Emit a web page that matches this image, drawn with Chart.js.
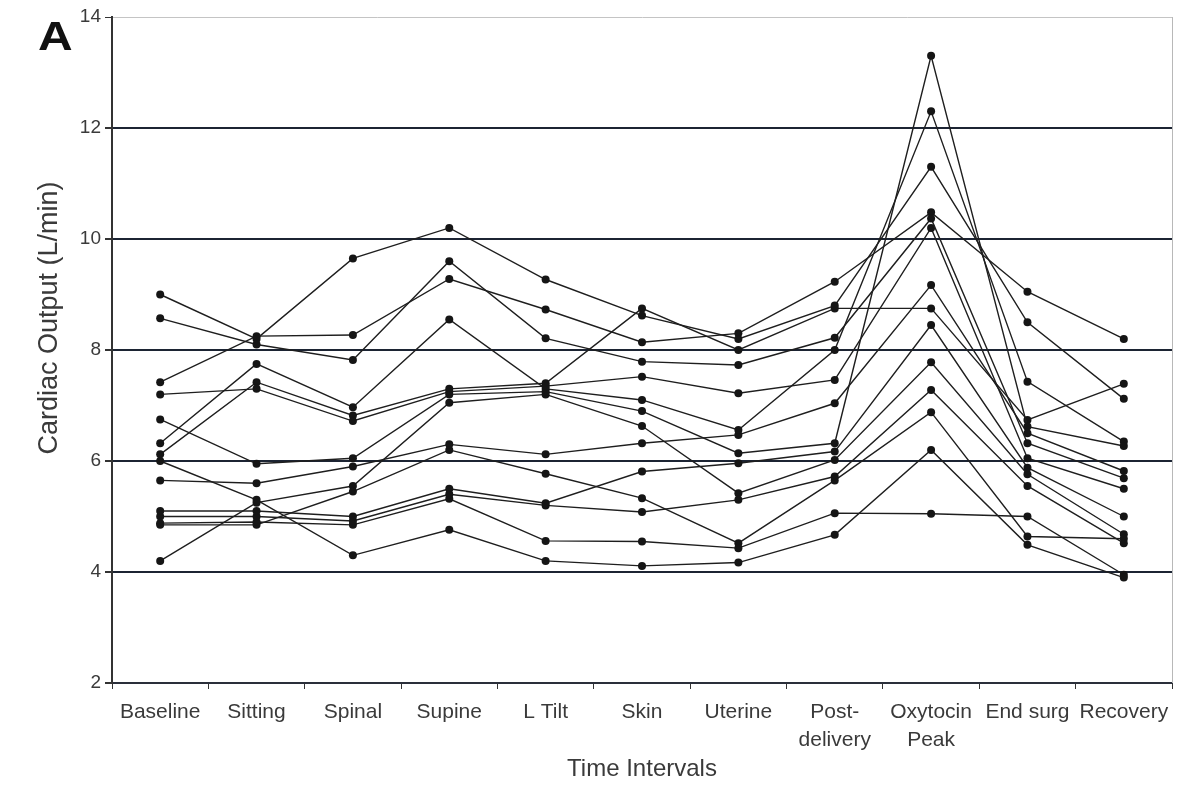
<!DOCTYPE html>
<html lang="en">
<head>
    <meta charset="UTF-8">
    <title>Cardiac Output by Time Interval</title>
    <script src="https://cdn.jsdelivr.net/npm/chart.js"></script>
    <style>
        html, body { margin: 0; padding: 0; background: #fff; }
        .wrap { width: 1185px; height: 793px; position: relative; }
    </style>
</head>
<body>
    <div class="wrap">
        <canvas id="coChart" width="1185" height="793"></canvas>
    </div>

    <script>
        // Time intervals (x categories)
        const intervals = ['Baseline', 'Sitting', 'Spinal', 'Supine', 'L Tilt', 'Skin', 'Uterine',
            ['Post-', 'delivery'], ['Oxytocin', 'Peak'], 'End surg', 'Recovery'];

        // Cardiac output per patient (L/min), one value per interval
        const p1  = [9.0,  8.2,  9.65, 10.2, 9.27, 8.62, 8.2,  8.8,  11.3,  8.5,  7.12];
        const p2  = [8.57, 8.1,  7.82, 9.6,  8.21, 7.79, 7.73, 8.22, 10.37, 6.32, 5.69];
        const p3  = [7.42, 8.25, 8.27, 9.28, 8.73, 8.14, 8.3,  9.23, 10.48, 9.05, 8.2];
        const p4  = [7.2,  7.3,  6.72, 7.25, 7.35, 7.52, 7.22, 7.46, 10.2,  6.05, 5.5];
        const p5  = [6.75, 5.95, 6.05, 7.2,  7.25, 6.9,  6.14, 6.32, 13.3,  6.62, 6.27];
        const p6  = [6.32, 7.75, 6.97, 8.55, 7.3,  7.1,  6.56, 8.0,  12.3,  7.43, 6.35];
        const p7  = [6.12, 7.42, 6.82, 7.3,  7.4,  8.75, 8.0,  8.75, 8.75,  6.74, 7.39];
        const p8  = [6.0,  5.3,  4.3,  4.76, 4.2,  4.11, 4.17, 4.67, 6.2,   4.49, 3.9];
        const p9  = [5.65, 5.6,  5.9,  6.3,  6.12, 6.32, 6.47, 7.04, 9.17,  6.5,  5.82];
        const p10 = [5.1,  5.1,  5.0,  5.5,  5.24, 5.81, 5.96, 6.17, 8.45,  5.88, 5.0];
        const p11 = [5.0,  5.0,  4.92, 5.4,  5.2,  5.08, 5.3,  5.72, 7.28,  5.55, 4.52];
        const p12 = [4.88, 4.9,  4.85, 5.32, 4.56, 4.55, 4.43, 5.06, 5.05,  5.0,  3.95];
        const p13 = [4.85, 4.85, 5.45, 6.2,  5.77, 5.33, 4.52, 5.65, 6.88,  4.64, 4.6];
        const p14 = [4.2,  5.25, 5.55, 7.05, 7.2,  6.63, 5.42, 6.02, 7.78,  5.76, 4.68];

        const patients = [p1, p2, p3, p4, p5, p6, p7, p8, p9, p10, p11, p12, p13, p14];

        // Y axis range / ticks
        const yMin = 2;
        const yMax = 14;
        const yStep = 2;

        const FONT = '"Liberation Sans", Arial, Helvetica, sans-serif';

        // extra text: panel letter and axis titles
        const textPlugin = {
            id: 'textPlugin',
            afterDraw(chart) {
                const { ctx, chartArea } = chart;
                ctx.save();

                // light frame on the right
                ctx.strokeStyle = '#b8b8b8';
                ctx.lineWidth = 1;
                ctx.beginPath();
                ctx.moveTo(chartArea.right + 0.5, chartArea.top);
                ctx.lineTo(chartArea.right + 0.5, chartArea.bottom);
                ctx.stroke();

                // panel letter, a bit wider than the plain bold face
                ctx.save();
                ctx.fillStyle = '#111';
                ctx.font = 'bold 40px ' + FONT;
                ctx.textAlign = 'left';
                ctx.textBaseline = 'alphabetic';
                ctx.translate(38, 50);
                ctx.scale(1.2, 1);
                ctx.fillText('A', 0, 0);
                ctx.restore();

                ctx.fillStyle = '#3a3a3a';
                ctx.font = '24px ' + FONT;
                ctx.textAlign = 'center';
                ctx.fillText('Time Intervals', (chartArea.left + chartArea.right) / 2, 776);

                ctx.translate(57, 318);
                ctx.rotate(-Math.PI / 2);
                ctx.font = '27px ' + FONT;
                ctx.fillText('Cardiac Output (L/min)', 0, 0);
                ctx.restore();
            }
        };

        const datasets = patients.map((vals, i) => ({
            label: 'Patient ' + (i + 1),
            data: vals,
            borderColor: '#1e1e1e',
            borderWidth: 1.4,
            pointRadius: 4,
            pointBackgroundColor: '#151515',
            pointBorderWidth: 0,
            tension: 0,
            fill: false
        }));

        new Chart(document.getElementById('coChart'), {
            type: 'line',
            data: { labels: intervals, datasets: datasets },
            options: {
                responsive: false,
                animation: false,
                layout: { padding: { top: 17, right: 13, left: 0, bottom: 0 } },
                plugins: {
                    legend: { display: false },
                    tooltip: { enabled: false }
                },
                scales: {
                    x: {
                        offset: true,
                        afterFit(scale) { scale.height = 110; },
                        grid: {
                            offset: true,
                            drawOnChartArea: false,
                            drawTicks: true,
                            tickLength: 6,
                            color: '#333'
                        },
                        border: { color: '#2a2f3a', width: 2 },
                        ticks: {
                            color: '#3a3a3a',
                            padding: 10,
                            maxRotation: 0,
                            autoSkip: false,
                            font: { family: FONT, size: 21, lineHeight: 1.3 }
                        }
                    },
                    y: {
                        min: yMin,
                        max: yMax,
                        afterFit(scale) { scale.width = 112; },
                        grid: {
                            color: ctx => ctx.tick && ctx.tick.value === yMax ? '#c4c4c4' : '#1c2433',
                            lineWidth: ctx => ctx.tick && ctx.tick.value === yMax ? 1 : 2,
                            tickColor: '#333',
                            tickLength: 7
                        },
                        border: { color: '#333', width: 2 },
                        ticks: {
                            stepSize: yStep,
                            color: '#3a3a3a',
                            padding: 4,
                            font: { family: FONT, size: 19 }
                        }
                    }
                }
            },
            plugins: [textPlugin]
        });
    </script>
</body>
</html>
